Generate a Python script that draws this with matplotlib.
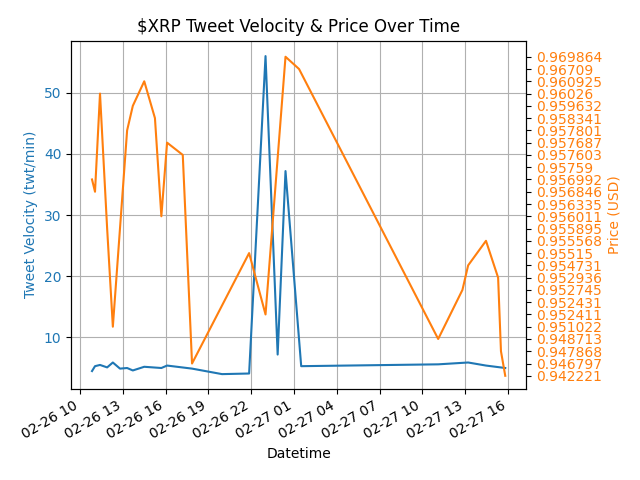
import matplotlib
matplotlib.use("Agg")
import matplotlib.pyplot as plt
import matplotlib.dates as mdates
import pandas as pd

base = pd.Timestamp("2021-02-26 10:00")
price_hours = [0.84,1.05,1.4,1.9,2.3,3.3,3.7,4.5,5.25,5.7,6.1,7.2,7.85,11.85,13.0,14.4,15.35,25.1,26.8,27.2,28.45,29.3,29.5,29.8]
price_idx = [16,15,23,12,4,20,22,24,21,13,19,18,1,10,5,26,25,3,7,9,11,8,2,0]
price_labels = ["0.942221","0.946797","0.947868","0.948713","0.951022","0.952411","0.952431",
    "0.952745","0.952936","0.954731","0.95515","0.955568","0.955895","0.956011","0.956335",
    "0.956846","0.956992","0.95759","0.957603","0.957687","0.957801","0.958341","0.959632",
    "0.96026","0.960925","0.96709","0.969864"]
vel_hours = [0.84,1.05,1.4,1.9,2.3,2.8,3.3,3.7,4.5,5.7,6.1,7.85,9.95,11.85,13.0,13.85,14.4,15.5,25.1,27.2,28.45,29.8]
vel = [4.5,5.3,5.5,5.1,5.9,4.9,5.0,4.6,5.2,5.0,5.4,4.9,4.0,4.1,56,7.2,37.2,5.3,5.6,5.9,5.4,5.0]

pt = [base + pd.Timedelta(hours=h) for h in price_hours]
vt = [base + pd.Timedelta(hours=h) for h in vel_hours]

fig, ax = plt.subplots(figsize=(6.4, 4.8), dpi=100)
ax.plot(vt, vel, color="tab:blue")
ax.set_ylim(1.6, 58.5)
ax.set_ylabel("Tweet Velocity (twt/min)", color="tab:blue")
ax.tick_params(axis="y", labelcolor="tab:blue")
ax.set_xlabel("Datetime")
ax.grid(True)
ax.xaxis.set_major_locator(mdates.HourLocator(byhour=range(1, 24, 3)))
ax.xaxis.set_major_formatter(mdates.DateFormatter("%m-%d %H"))
ax.set_xlim(base - pd.Timedelta(hours=0.63), base + pd.Timedelta(hours=31.26))
ax2 = ax.twinx()
ax2.plot(pt, price_idx, color="tab:orange")
ax2.set_yticks(range(len(price_labels)))
ax2.set_yticklabels(price_labels)
ax2.set_ylim(-1.06, 27.3)
ax2.set_ylabel("Price (USD)", color="tab:orange")
ax2.tick_params(axis="y", labelcolor="tab:orange")
ax.set_title("$XRP Tweet Velocity & Price Over Time")
for lab in ax.get_xticklabels():
    lab.set_rotation(30); lab.set_ha("right")
fig.subplots_adjust(left=0.111, right=0.822, top=0.915, bottom=0.19)
fig.savefig("out.png")
